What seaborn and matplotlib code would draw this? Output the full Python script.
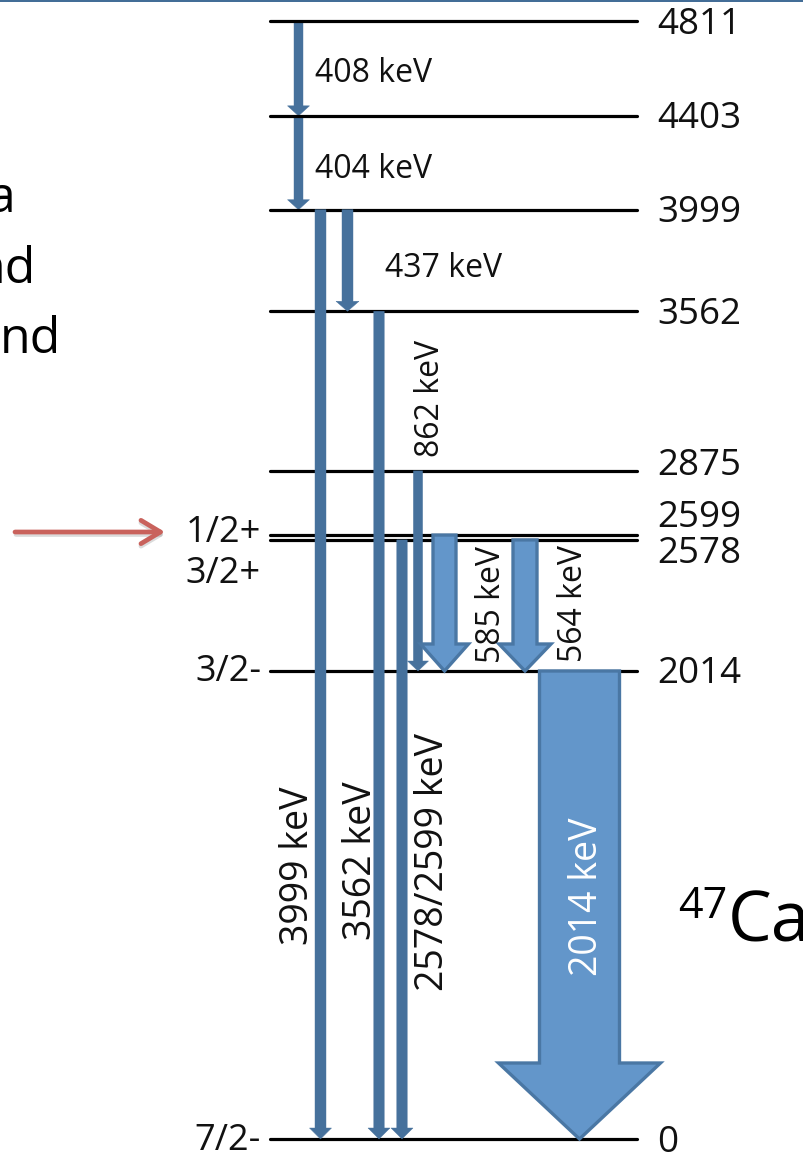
import matplotlib
matplotlib.use("Agg")
import matplotlib.pyplot as plt
from matplotlib.patches import Polygon
import pandas as pd
import seaborn as sns

# ---- level scheme of 47Ca -------------------------------------------------
levels = [4811, 4403, 3999, 3562, 2875, 2599, 2578, 2014, 0]          # keV
level_names = ["4811", "4403", "3999", "3562", "2875", "2599", "2578", "2014", "0"]

spin_levels = [2599, 2578, 2014, 0]
spin_names = ["1/2+", "3/2+", "3/2-", "7/2-"]

# gamma transitions: initial level, final level, label
gamma_from = [4811, 4403, 3999, 3999, 3562, 2578, 2875, 2599, 2578, 2014]
gamma_to = [4403, 3999, 0, 3562, 0, 0, 2014, 2014, 2014, 0]
gamma_names = ["408 keV", "404 keV", "3999 keV", "437 keV", "3562 keV",
               "2578/2599 keV", "862 keV", "585 keV", "564 keV", "2014 keV"]

# ---- drawing geometry (x in pixels, energy axis linear in keV) -------------
W, H = 804, 1159
K = 0.23238          # pixels per keV
Y0 = 1139            # pixel row of the ground state


def e_at(ypx):
    """energy coordinate of a pixel row"""
    return (Y0 - ypx) / K


def dk(px):
    """pixel length expressed in keV"""
    return px / K


THIN = "#46719C"
BIG_FC = "#6396CA"
BIG_EC = "#4A77A4"

# x centre, shaft half width, head half width, head length (px), style
arrow_x = [298.5, 298.5, 320.5, 347.5, 379, 402, 418, 444.5, 525, 579.5]
arrow_w = [4.5, 4.5, 5.5, 5.5, 5.2, 5.2, 4.6, 11.5, 12, 40]
arrow_hw = [11, 11, 11, 11.5, 11, 11, 10.5, 24, 26, 81]
arrow_hl = [10, 10, 11, 10, 11, 11, 10, 27, 27, 76]
arrow_big = [False] * 7 + [True] * 3
arrow_z = [1, 1, 3, 3, 3, 3, 3, 4, 4, 4]

sns.set_theme(style="white")
plt.rcParams["font.family"] = ["Open Sans", "DejaVu Sans"]

fig = plt.figure(figsize=(W / 100, H / 100), dpi=100)
ax = fig.add_axes([0, 0, 1, 1])
ax.set_xlim(0, W)
ax.set_ylim(e_at(H), e_at(0))
ax.axis("off")

# level lines
seg = pd.DataFrame({
    "x": [x for _ in levels for x in (270, 637)],
    "E": [e for e in levels for _ in (0, 1)],
    "level": [n for n in level_names for _ in (0, 1)],
})
sns.lineplot(data=seg, x="x", y="E", units="level", estimator=None, sort=False,
             color="black", linewidth=2.3, legend=False, ax=ax, zorder=2)


def gamma_arrow(x, e0, e1, w, hw, hl_px, big, z):
    base = e1 + dk(hl_px)
    pts = [(x - w, e0), (x + w, e0), (x + w, base), (x + hw, base),
           (x, e1), (x - hw, base), (x - w, base)]
    if big:
        patch = Polygon(pts, closed=True, fc=BIG_FC, ec=BIG_EC, lw=2.4,
                        joinstyle="miter", zorder=z)
    else:
        patch = Polygon(pts, closed=True, fc=THIN, ec=THIN, lw=0.3,
                        joinstyle="miter", zorder=z)
    ax.add_patch(patch)


for i in range(len(gamma_from)):
    gamma_arrow(arrow_x[i], gamma_from[i], gamma_to[i], arrow_w[i],
                arrow_hw[i], arrow_hl[i], arrow_big[i], arrow_z[i])

# level energies on the right
label_shift = {"2875": -8, "2599": -21, "2578": 11}
for e, name in zip(levels, level_names):
    ypx = Y0 - e * K + label_shift.get(name, 0) + 12.5
    ax.text(657, e_at(ypx), name, fontsize=26.5, ha="left", va="baseline",
            color="#111111")

# spins and parities on the left
spin_base = {"1/2+": 542, "3/2+": 583, "3/2-": 681, "7/2-": 1150}
for e, name in zip(spin_levels, spin_names):
    ax.text(261, e_at(spin_base[name]), name, fontsize=26, ha="right",
            va="baseline", color="#111111")

# horizontal transition labels
ax.text(315, e_at(82), gamma_names[0], fontsize=23, ha="left", va="baseline", color="#111111")
ax.text(315, e_at(178), gamma_names[1], fontsize=23, ha="left", va="baseline", color="#111111")
ax.text(385, e_at(277), gamma_names[3], fontsize=23, ha="left", va="baseline", color="#111111")

# vertical transition labels (x centre, y centre in px, size, colour)
vert = {
    "3999 keV": (298, 866, 27, "#111111"),
    "3562 keV": (361, 861, 27, "#111111"),
    "2578/2599 keV": (433, 862, 27, "#111111"),
    "2014 keV": (587, 897, 27, "white"),
    "862 keV": (431, 398, 23, "#111111"),
    "585 keV": (492, 605, 23, "#111111"),
    "564 keV": (574, 603, 23, "#111111"),
}
for name, (xc, yc, fs, col) in vert.items():
    ax.text(xc, e_at(yc), name, fontsize=fs, rotation=90, ha="center",
            va="center", color=col, zorder=6)

# nucleus name
ax.text(728, e_at(942), "Ca", fontsize=50, ha="left", va="baseline", color="black")
ax.text(727, e_at(918), "47", fontsize=31, ha="right", va="baseline", color="black")

# pointer to the 1/2+ level
y_arr = e_at(532)
ax.annotate("", xy=(165, e_at(534.5)), xytext=(16, e_at(534.5)),
            arrowprops=dict(arrowstyle="->,head_length=0.7,head_width=0.42",
                            color="#999999", alpha=0.35, lw=3.4,
                            shrinkA=0, shrinkB=0, mutation_scale=20))
ax.annotate("", xy=(165, y_arr), xytext=(15, y_arr),
            arrowprops=dict(arrowstyle="->,head_length=0.7,head_width=0.42",
                            color="#C9625C", lw=3.4,
                            shrinkA=0, shrinkB=0, mutation_scale=20))

# text running in from the left edge
for xr, yb, s in [(16, 212, "a"), (36, 283, "nd"), (61, 353, "nd")]:
    ax.text(xr, e_at(yb), s, fontsize=36, ha="right", va="baseline", color="black")

# thin rule along the top edge
ax.axhline(e_at(0.8), color="#2F5E8C", lw=1.3)

fig.savefig("out.png", dpi=100)
